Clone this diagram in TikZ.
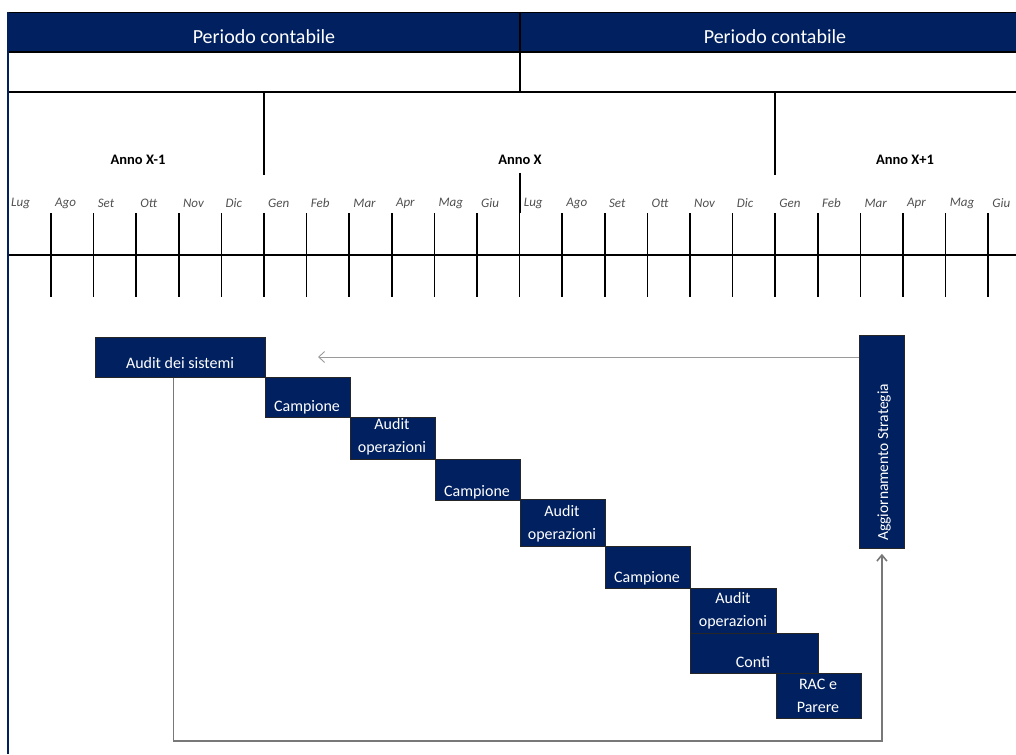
\documentclass[tikz,border=0pt]{standalone}
\usepackage{fontspec}
\setmainfont{Carlito}
\usetikzlibrary{arrows.meta}
\definecolor{navy}{RGB}{0,32,96}
\definecolor{monthgray}{RGB}{80,80,80}
\definecolor{flowgray}{RGB}{120,120,120}

\begin{document}
\begin{tikzpicture}[x=1pt,y=-1pt,
  rule/.style={draw=black,line width=1.5pt},
  phase/.style={draw=black!85,line width=0.8pt,fill=navy,inner sep=0pt,anchor=north west},
  phasetext/.style={text=white,font=\fontsize{16}{23}\selectfont,align=center,inner sep=0pt},
  month/.style={font=\fontsize{13}{14}\selectfont\itshape,text=monthgray,anchor=west,inner sep=0pt},
  year/.style={font=\fontsize{14.5}{16}\selectfont\bfseries,inner sep=0pt},
  period/.style={text=white,font=\fontsize{20}{22}\selectfont,inner sep=0pt},
  flow/.style={draw=flowgray,line width=1.6pt},
  back/.style={draw=flowgray!75,line width=0.9pt},
]
\useasboundingbox (0,0) rectangle (1016,754);

% header band with the two accounting periods
\fill[navy] (8,12) rectangle (1016,52);
\draw[black,line width=0.8pt] (8,12) -- (1016,12);
\draw[rule] (8,52) -- (1016,52);
\draw[rule] (8,92) -- (1016,92);
\draw[rule] (520,12) -- (520,92);
\node[period] (per1) at (264,37) {Periodo contabile};
\node[period] (per2) at (775,37) {Periodo contabile};

% year separators and labels
\draw[rule] (264.2,92) -- (264.2,175);
\draw[rule] (775.2,92) -- (775.2,175);
\draw[rule] (520,173) -- (520,213);
\node[year] (y1) at (138,160) {Anno X-1};
\node[year] (y2) at (520,160) {Anno X};
\node[year] (y3) at (905,160) {Anno X+1};

% time axis with monthly ticks
\draw[rule] (8,255) -- (1016,255);
\foreach \k in {0,...,22}
  \draw[rule] ({51+42.6*\k},213) -- ({51+42.6*\k},297);
\foreach \m [count=\i from 0] in {Lug,Ago,Set,Ott,Nov,Dic,Gen,Feb,Mar,Apr,Mag,Giu,Lug,Ago,Set,Ott,Nov,Dic,Gen,Feb,Mar,Apr,Mag,Giu} {
  \pgfmathsetmacro\xl{\i==0 ? 11 : 51+42.6*(\i-1)+4}
  \node[month] (m\i) at (\xl,203) {\m};
}

% left frame edge
\draw[navy,line width=2pt] (8,12) -- (8,754);

% audit phases
\node[phase,minimum width=170pt,minimum height=40pt] (sys) at (95,337) {};
\node[phasetext] (sysl) at (180,363) {Audit dei sistemi};
\node[phase,minimum width=85pt,minimum height=40pt] (c1) at (265,377) {};
\node[phasetext] (c1l) at (307,407) {Campione};
\node[phase,minimum width=85pt,minimum height=42pt] (a1) at (350,417) {};
\node[phasetext] (a1l) at (392,437) {Audit\\operazioni};
\node[phase,minimum width=85pt,minimum height=41pt] (c2) at (435,459) {};
\node[phasetext] (c2l) at (477,492) {Campione};
\node[phase,minimum width=85pt,minimum height=47pt] (a2) at (520,499) {};
\node[phasetext] (a2l) at (562,524) {Audit\\operazioni};
\node[phase,minimum width=85pt,minimum height=42pt] (c3) at (605,546) {};
\node[phasetext] (c3l) at (647,578) {Campione};
\node[phase,minimum width=128pt,minimum height=40pt] (conti) at (690,633) {};
\node[phase,minimum width=86pt,minimum height=45pt] (a3) at (690,588) {};
\node[phasetext] (a3l) at (733,611) {Audit\\operazioni};
\node[phasetext] (contil) at (753,662) {Conti};
\node[phase,minimum width=85pt,minimum height=45pt] (rac) at (776,673) {};
\node[phasetext] (racl) at (818,696) {RAC e\\Parere};

% strategy update
\node[phase,minimum width=45pt,minimum height=213pt] (strat) at (859,335) {};
\node[phasetext,rotate=90,anchor=west,font=\fontsize{15.5}{18}\selectfont] (stratl) at (884,541) {Aggiornamento Strategia};

% feedback connectors
\coordinate (backtip) at (318,357);
\draw[back,-{Straight Barb[length=6pt,width=11pt]}] (strat.west |- backtip) -- (backtip);
\coordinate (loop) at (500,741);
\draw[flow,-{Straight Barb[length=6pt,width=10pt]}] ([xshift=-7pt]sys.south) |- (loop) -| ([yshift=-5pt]strat.south);
\end{tikzpicture}
\end{document}
